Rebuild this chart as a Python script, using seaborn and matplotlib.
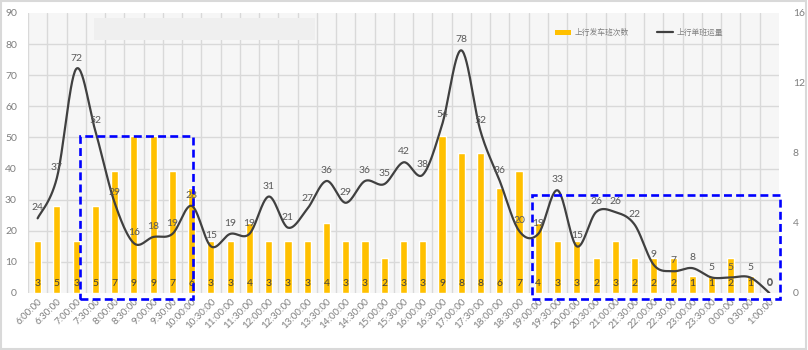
import numpy as np
import pandas as pd
import matplotlib
matplotlib.use("Agg")
import matplotlib.pyplot as plt
from matplotlib.patches import Rectangle, Patch
from matplotlib.lines import Line2D
import seaborn as sns

times = ["6:00:00", "6:30:00", "7:00:00", "7:30:00", "8:00:00", "8:30:00", "9:00:00",
         "9:30:00", "10:00:00", "10:30:00", "11:00:00", "11:30:00", "12:00:00", "12:30:00",
         "13:00:00", "13:30:00", "14:00:00", "14:30:00", "15:00:00", "15:30:00", "16:00:00",
         "16:30:00", "17:00:00", "17:30:00", "18:00:00", "18:30:00", "19:00:00", "19:30:00",
         "20:00:00", "20:30:00", "21:00:00", "21:30:00", "22:00:00", "22:30:00", "23:00:00",
         "23:30:00", "0:00:00", "0:30:00", "1:00:00"]
trips = [3, 5, 3, 5, 7, 9, 9, 7, 6, 3, 3, 4, 3, 3, 3, 4, 3, 3, 2, 3, 3,
         9, 8, 8, 6, 7, 4, 3, 3, 2, 3, 2, 2, 2, 1, 1, 2, 1, 0]
load = [24, 37, 72, 52, 29, 16, 18, 19, 28, 15, 19, 19, 31, 21, 27, 36, 29, 36, 35, 42, 38,
        54, 78, 52, 36, 20, 19, 33, 15, 26, 26, 22, 9, 7, 8, 5, 5, 5, 0]
bar_name = "上行发车班次数"
line_name = "上行单班运量"

BAR_C = "#FFC000"
LINE_C = "#404040"
TXT_C = "#595959"
TICK_C = "#7f7f7f"
GRID_C = "#d9d9d9"

sns.set_theme(style="white")
plt.rcParams["font.family"] = ["Lato", "Noto Sans CJK SC", "DejaVu Sans"]
plt.rcParams["hatch.color"] = "#e4e4e4"
plt.rcParams["hatch.linewidth"] = 0.6

fig = plt.figure(figsize=(8.08, 3.5), dpi=100)
fig.patch.set_facecolor("white")
W, H = 808, 350
ax = fig.add_axes([28 / W, (H - 293) / H, (779 - 28) / W, (293 - 13) / H])

ax.set_facecolor("#f6f6f6")
ax.add_patch(Rectangle((0, 0), 1, 1, transform=ax.transAxes, facecolor="none",
                       edgecolor="none", hatch="\\\\\\\\", zorder=0))

df = pd.DataFrame({"time": times, "trips": trips, "load": load})
sns.barplot(data=df, x="time", y="trips", order=times, color=BAR_C, width=0.37,
            ax=ax, zorder=2, saturation=1)
n = len(times)
ax.set_xlim(-0.5, n - 0.5)
ax.set_ylim(0, 16)
ax.set_xlabel("")
ax.set_ylabel("")
ax.set_yticks([0, 4, 8, 12, 16])
ax.set_yticks(np.linspace(0, 16, 10), minor=True)
ax.set_xticks(np.arange(n) - 0.5, minor=True)
ax.grid(False)
ax.grid(which="minor", axis="both", color=GRID_C, linewidth=1.0, zorder=1)
ax.set_axisbelow(True)
ax.set_xticks(np.arange(n))
ax.set_xticklabels(times, rotation=45, ha="right", rotation_mode="anchor")
for s in ax.spines.values():
    s.set_visible(False)

for i, v in enumerate(trips):
    ax.annotate(str(v), (i, 0), xytext=(0, 7), textcoords="offset points",
                ha="center", va="center", fontsize=7.5, color=LINE_C, zorder=5)

ax2 = ax.twinx()
ax.yaxis.tick_right()
ax.yaxis.set_label_position("right")
ax2.yaxis.tick_left()
ax2.yaxis.set_label_position("left")
ax.tick_params(axis="y", which="both", length=0, labelsize=7.5, labelcolor=TICK_C, pad=10)
ax.tick_params(axis="x", which="both", length=0, labelsize=7, labelcolor=TICK_C, pad=3)
ax2.set_ylim(0, 90)
ax2.set_yticks(np.arange(0, 91, 10))
ax2.tick_params(axis="y", length=0, labelsize=7.5, labelcolor=TICK_C, pad=8)
for s in ax2.spines.values():
    s.set_visible(False)

# smooth curve (Bezier through the points, like a smoothed line)
px = np.arange(n, dtype=float)
py = np.array(load, dtype=float)
xs, ys = [], []
t = np.linspace(0, 1, 30)
for k in range(n - 1):
    p0 = np.array([px[max(k - 1, 0)], py[max(k - 1, 0)]])
    p1 = np.array([px[k], py[k]])
    p2 = np.array([px[k + 1], py[k + 1]])
    p3 = np.array([px[min(k + 2, n - 1)], py[min(k + 2, n - 1)]])
    c1 = p1 + (p2 - p0) / 6.0
    c2 = p2 - (p3 - p1) / 6.0
    b = ((1 - t) ** 3)[:, None] * p1 + (3 * (1 - t) ** 2 * t)[:, None] * c1 + \
        (3 * (1 - t) * t ** 2)[:, None] * c2 + (t ** 3)[:, None] * p2
    xs.extend(b[:, 0])
    ys.extend(b[:, 1])
curve = pd.DataFrame({"x": xs, "y": ys})
sns.lineplot(data=curve, x="x", y="y", ax=ax2, color=LINE_C, linewidth=1.6,
             sort=False, estimator=None, zorder=4)
ax2.set_xlim(-0.5, n - 0.5)
ax2.set_xlabel("")
ax2.set_ylabel("")

for i, v in enumerate(load):
    ax2.annotate(str(v), (i, v), xytext=(0, 7.5), textcoords="offset points",
                 ha="center", va="center", fontsize=7.5, color=TXT_C, zorder=5)

for (x0, x1, y0, y1) in [(2.2, 8.08, -1.9, 50.6), (25.66, 38.57, -1.9, 31.5)]:
    ax2.add_patch(Rectangle((x0, y0), x1 - x0, y1 - y0, fill=False, edgecolor="#0000ff",
                            linewidth=1.9, linestyle=(0, (3, 1.6)), clip_on=False, zorder=6))

handles = [Patch(facecolor=BAR_C, edgecolor="none"),
           Line2D([0], [0], color=LINE_C, linewidth=1.6)]
leg = ax2.legend(handles, [bar_name, line_name], loc="center left",
                 bbox_to_anchor=(555 / W, (H - 32) / H), bbox_transform=fig.transFigure,
                 ncol=2, frameon=False, fontsize=5.6, handlelength=2.1, handleheight=0.6,
                 columnspacing=3.6, handletextpad=0.4, borderpad=0, borderaxespad=0)
for txt in leg.get_texts():
    txt.set_color(TICK_C)

fig.patches.append(Rectangle((94 / W, (H - 40) / H), (315 - 94) / W, 22 / H,
                             transform=fig.transFigure, facecolor="#efefef",
                             edgecolor="none", zorder=3))
fig.patches.append(Rectangle((0.001, 0.002), 0.997, 0.995, transform=fig.transFigure,
                             facecolor="none", edgecolor="#d9d9d9", linewidth=1.5))

fig.savefig("out.png", dpi=100, facecolor="white")
